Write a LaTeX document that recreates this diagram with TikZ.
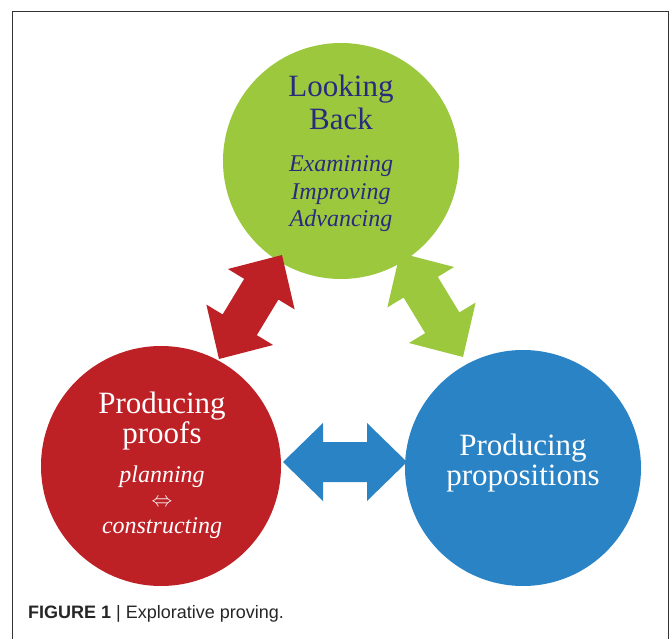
\documentclass[tikz,border=0pt]{standalone}
\usepackage{fontspec}
\setmainfont{Liberation Serif}
\newfontfamily\capfont{Liberation Sans}
\usetikzlibrary{calc}
\definecolor{lbgreen}{HTML}{9CC83D}
\definecolor{ppred}{HTML}{BD2126}
\definecolor{prblue}{HTML}{2A83C5}
\definecolor{navytxt}{HTML}{2A2A7E}
\definecolor{framegray}{HTML}{333333}
\tikzset{
  phase/.style={circle, inner sep=0pt, minimum size=#1},
  bigtxt/.style={anchor=base, inner sep=0pt, font=\fontsize{31}{33}\selectfont},
  smalltxt/.style={anchor=base, inner sep=0pt, font=\fontsize{24}{28}\selectfont\itshape},
}
% double block arrow between two named coordinates
\newcommand\blockarrow[4]{% #1 name, #2 tip A, #3 tip B, #4 colour
  \coordinate (#1ha) at ($(#2)!40pt!(#3)$);
  \coordinate (#1hb) at ($(#3)!40pt!(#2)$);
  \fill[#4] (#2)
    -- ($(#1ha)!39pt!90:(#3)$)
    -- ($(#1ha)!20pt!90:(#3)$)
    -- ($(#1hb)!20pt!-90:(#2)$)
    -- ($(#1hb)!39pt!-90:(#2)$)
    -- (#3)
    -- ($(#1hb)!39pt!90:(#2)$)
    -- ($(#1hb)!20pt!90:(#2)$)
    -- ($(#1ha)!20pt!-90:(#3)$)
    -- ($(#1ha)!39pt!-90:(#3)$)
    -- cycle;}
\begin{document}
\begin{tikzpicture}[x=1pt,y=-1pt]
\useasboundingbox (0,0) rectangle (670,639);
\fill[white] (0,0) rectangle (670,639);
% frame
\coordinate (f1) at (12.5,639);
\coordinate (f2) at (12.5,11.5);
\coordinate (f3) at (668.5,11.5);
\coordinate (f4) at (668.5,639);
\draw[framegray, line width=0.9pt] (f1) -- (f2) -- (f3) -- (f4);
% circles
\node[phase=236pt, fill=lbgreen] (lb) at (341,161) {};
\node[phase=240pt, fill=ppred] (pf) at (161,466) {};
\node[phase=236pt, fill=prblue] (pr) at (523,468) {};
% arrow tips
\coordinate (ra) at (219,359);
\coordinate (rb) at (282,255);
\coordinate (ga) at (400,253);
\coordinate (gb) at (463,357);
\coordinate (ba) at (283,462);
\coordinate (bb) at (407,462);
\blockarrow{red}{ra}{rb}{ppred}
\blockarrow{grn}{ga}{gb}{lbgreen}
\blockarrow{blu}{ba}{bb}{prblue}
% texts
\node[bigtxt, text=navytxt] (lb1) at (341,97) {Looking};
\node[bigtxt, text=navytxt] (lb2) at (341,130) {Back};
\node[smalltxt, text=navytxt] (lb3) at (341,172) {Examining};
\node[smalltxt, text=navytxt] (lb4) at (341,200) {Improving};
\node[smalltxt, text=navytxt] (lb5) at (341,227) {Advancing};
\node[bigtxt, text=white] (pf1) at (162,413) {Producing};
\node[bigtxt, text=white] (pf2) at (162,443) {proofs};
\node[smalltxt, text=white] (pf3) at (162,482) {planning};
\node[anchor=center, inner sep=0pt, text=white, font=\fontsize{20}{20}\selectfont] (pf4) at (162,503) {$\Leftrightarrow$};
\node[smalltxt, text=white] (pf5) at (162,533) {constructing};
\node[bigtxt, text=white] (pr1) at (523,455) {Producing};
\node[bigtxt, text=white] (pr2) at (523,485) {propositions};
% caption
\node[anchor=base west, inner sep=0pt, font=\capfont\fontsize{18}{20}\selectfont, text=black!85] (cap) at (28,618) {\textbf{FIGURE 1} | Explorative proving.};
\end{tikzpicture}
\end{document}
